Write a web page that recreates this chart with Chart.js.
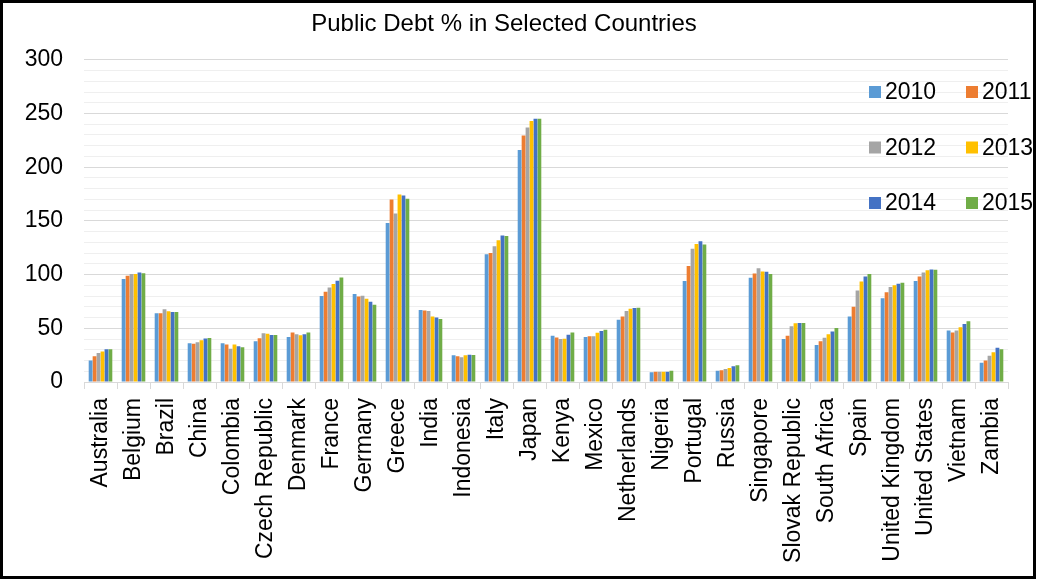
<!DOCTYPE html>
<html>
<head>
<meta charset="utf-8">
<script src="https://cdn.jsdelivr.net/npm/chart.js@4/dist/chart.umd.min.js"></script>
<style>
  html, body { margin: 0; padding: 0; background: #fff; }
  .wrapper { position: relative; width: 1039px; height: 581px; }
  .wrapper canvas { position: absolute; left: 0; top: 0; }
  .frame { position: absolute; left: 0; top: 0; width: 1036px; height: 579px;
           box-sizing: border-box; border: 3px solid #000; pointer-events: none; }
</style>
</head>
<body>
<div class="wrapper">
  <canvas id="debtChart" width="1039" height="581"></canvas>
  <div class="frame"></div>
</div>
<script>
// categories
const countries = ["Australia", "Belgium", "Brazil", "China", "Colombia", "Czech Republic",
  "Denmark", "France", "Germany", "Greece", "India", "Indonesia", "Italy", "Japan", "Kenya",
  "Mexico", "Netherlands", "Nigeria", "Portugal", "Russia", "Singapore", "Slovak Republic",
  "South Africa", "Spain", "United Kingdom", "United States", "Vietnam", "Zambia"];

// public debt % per year, same order as countries
const debt2010 = [20, 96, 64, 36, 36, 38, 42, 80, 82, 148, 67, 25, 119, 216, 43, 42, 58, 9, 94, 10.5, 97, 40, 34.5, 61, 78, 94, 48, 18];
const debt2011 = [24, 99, 64, 35.7, 35, 40.7, 46, 84, 79.5, 170, 66.5, 24, 120, 229.5, 41.5, 42.5, 61, 9.6, 108, 11, 101, 43, 38, 70, 83.5, 98.3, 46, 20];
const debt2012 = [27, 100.6, 67.7, 37, 31, 45.3, 44.5, 88, 80.3, 157, 66, 23, 126.5, 237, 40, 42.5, 66, 9.6, 124, 12, 106, 52, 41.3, 85.3, 88.4, 102, 48, 24.5];
const debt2013 = [28.5, 100.6, 65.8, 38.8, 35, 45, 43.5, 91.3, 77.5, 174.6, 61, 25, 132, 243, 40.3, 45.8, 68.2, 9.6, 128.5, 13, 103, 54.6, 44.4, 93.5, 90, 104, 51, 27.6];
const debt2014 = [30.4, 102, 65.2, 40.4, 33.2, 43.8, 44.4, 94.3, 74.8, 173.7, 60, 25.4, 136.5, 245, 44, 47.5, 69, 9.6, 131, 14.6, 102.7, 55, 47, 98.2, 91.5, 104.8, 54, 32];
const debt2015 = [30.4, 101.3, 65.2, 41, 32.3, 43.8, 46, 97.4, 72, 170.6, 58.6, 25.2, 136, 245, 46, 48.7, 69.2, 10.5, 128, 15.5, 100.5, 55, 50.2, 100.5, 92.4, 104.5, 56.5, 30.4];

const years = ["2010", "2011", "2012", "2013", "2014", "2015"];
const yearColors = ["#5b9bd5", "#ed7d31", "#a5a5a5", "#ffc000", "#4472c4", "#70ad47"];
const series = [debt2010, debt2011, debt2012, debt2013, debt2014, debt2015];

const FONT = "'Liberation Sans', Arial, sans-serif";

// legend drawn as a 2 x 3 grid inside the plot, like the original
const gridLegend = {
  id: "gridLegend",
  afterDraw(chart) {
    const ctx = chart.ctx;
    ctx.save();
    ctx.font = "23px " + FONT;
    ctx.textBaseline = "middle";
    chart.data.datasets.forEach((ds, i) => {
      const col = i % 2, row = Math.floor(i / 2);
      const x = 869 + col * 97;
      const y = 92 + row * 55.5;
      ctx.fillStyle = ds.backgroundColor;
      ctx.fillRect(x, y - 6, 12, 12);
      ctx.fillStyle = "#000";
      ctx.fillText(ds.label, x + 16, y + 1);
    });
    ctx.restore();
  }
};

const ctx = document.getElementById("debtChart").getContext("2d");
new Chart(ctx, {
  type: "bar",
  data: {
    labels: countries,
    datasets: years.map((y, i) => ({
      label: y,
      data: series[i],
      backgroundColor: yearColors[i],
      barPercentage: 0.96,
      categoryPercentage: 0.72
    }))
  },
  options: {
    responsive: false,
    animation: false,
    layout: { padding: { left: 0, right: 31, top: 0, bottom: 0 } },
    plugins: {
      legend: { display: false },
      tooltip: { enabled: false },
      title: {
        display: true,
        text: "Public Debt % in Selected Countries",
        color: "#000",
        font: { family: FONT, size: 24, weight: "normal" },
        padding: { top: 10, bottom: 21 }
      }
    },
    scales: {
      x: {
        afterFit(scale) { scale.height = 199; },
        grid: {
          offset: true,
          drawOnChartArea: false,
          drawTicks: true,
          tickLength: 7,
          color: "#d9d9d9"
        },
        border: { color: "#d9d9d9", width: 1 },
        ticks: {
          minRotation: 90,
          maxRotation: 90,
          autoSkip: false,
          padding: 9,
          color: "#000",
          font: { family: FONT, size: 23 }
        }
      },
      y: {
        min: 0,
        max: 300,
        afterFit(scale) { scale.width = 84; },
        border: { display: false },
        grid: {
          drawTicks: false,
          color: (c) => (c.tick && c.tick.value % 50 === 0) ? "#d9d9d9" : "#efefef",
          lineWidth: 1
        },
        ticks: {
          stepSize: 10,
          autoSkip: false,
          padding: 21,
          color: "#000",
          font: { family: FONT, size: 23 },
          callback: (v) => (v % 50 === 0 ? v : "")
        }
      }
    }
  },
  plugins: [gridLegend]
});
</script>
</body>
</html>
